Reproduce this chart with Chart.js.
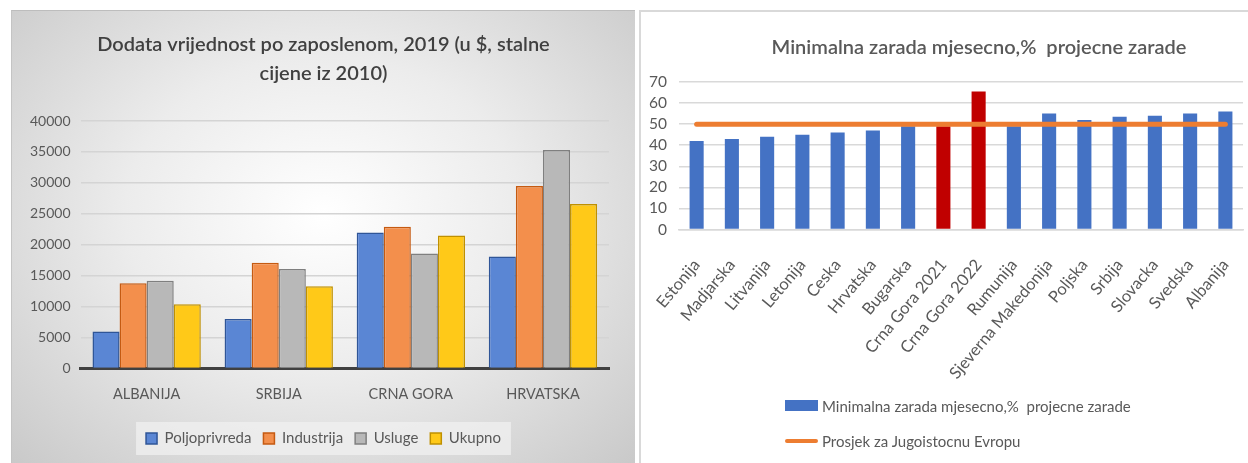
<!DOCTYPE html>
<html>
<head>
<meta charset="utf-8">
<title>Dodata vrijednost i minimalna zarada</title>
<script src="https://cdn.jsdelivr.net/npm/chart.js@4"></script>
<style>
  html, body { margin: 0; padding: 0; background: #fff; }
  body { width: 1248px; height: 463px; position: relative; overflow: hidden; font-family: Lato, sans-serif; }
  #left-panel {
    position: absolute; left: 11px; top: 10px; width: 623px; height: 453px;
    background: radial-gradient(ellipse at 50% 45%, #ffffff 0%, #ececec 45%, #c9c9c9 100%);
    border-top: 1px solid #bdbdbd; border-left: 1px solid #c4c4c4;
  }
  #right-panel {
    position: absolute; left: 639px; top: 10px; width: 609px; height: 453px;
    background: #fff; overflow: hidden;
    border-top: 2px solid #d9d9d9; border-left: 2px solid #d9d9d9;
  }
  #right-legend { position: absolute; left: 144px; top: 376px; color: #595959; font-size: 15px; }
  #right-legend div { height: 35px; display: flex; align-items: center; }
  .swatch-bar { display: inline-block; width: 33px; height: 11px; background: #4472C4; margin-right: 4px; }
  .swatch-line { display: inline-block; width: 33px; height: 4px; border-radius: 2px; background: #ED7D31; margin-right: 4px; }
</style>
</head>
<body>
<div id="left-panel"><canvas id="dodataChart" width="623" height="453"></canvas></div>
<div id="right-panel">
  <canvas id="zaradaChart" width="668" height="453"></canvas>
  <div id="right-legend">
    <div><span class="swatch-bar"></span>Minimalna zarada mjesecno,%&nbsp; projecne zarade</div>
    <div><span class="swatch-line"></span>Prosjek za Jugoistocnu Evropu</div>
  </div>
</div>
<script>
// Lijevi grafikon: dodata vrijednost po zaposlenom
const countries = ['ALBANIJA', 'SRBIJA', 'CRNA GORA', 'HRVATSKA'];
const poljoprivreda = [6000, 8000, 22000, 18100];
const industrija = [13800, 17100, 22900, 29500];
const usluge = [14200, 16100, 18600, 35300];
const ukupno = [10400, 13300, 21500, 26600];

// Desni grafikon: minimalna zarada, % prosjecne zarade
const zemlje = ['Estonija', 'Madjarska', 'Litvanija', 'Letonija', 'Ceska', 'Hrvatska', 'Bugarska',
  'Crna Gora 2021', 'Crna Gora 2022', 'Rumunija', 'Sjeverna Makedonija', 'Poljska', 'Srbija',
  'Slovacka', 'Svedska', 'Albanija'];
const minZarada = [42, 43, 44, 45, 46, 47, 49, 49, 65.5, 49, 55, 52, 53.5, 54, 55, 56];
const prosjekSEE = [50, 50, 50, 50, 50, 50, 50, 50, 50, 50, 50, 50, 50, 50, 50, 50];

Chart.defaults.font.family = 'Lato, "Liberation Sans", sans-serif';
Chart.defaults.color = '#595959';
Chart.defaults.animation = false;

// light box behind the legend of the left chart
const legendBg = {
  id: 'legendBg',
  beforeDraw(chart, args, opts) {
    const boxes = chart.legend && chart.legend.legendHitBoxes;
    if (!boxes || !boxes.length) return;
    const ctx = chart.ctx;
    const left = Math.min(...boxes.map(b => b.left)) - 10;
    const right = Math.max(...boxes.map(b => b.left + b.width)) + 10;
    const top = boxes[0].top - 9;
    const bottom = boxes[0].top + boxes[0].height + 9;
    ctx.save();
    ctx.fillStyle = opts.color || 'rgba(255,255,255,0.35)';
    ctx.fillRect(left, top, right - left, bottom - top);
    ctx.restore();
  }
};

function barSet(label, data, fill, border) {
  return { label: label, data: data, backgroundColor: fill, borderColor: border, borderWidth: 1.5 };
}

// empty axis on the right, used to push the plot in without moving title/legend
function spacer(width) {
  return {
    position: 'right',
    grid: { display: false },
    border: { display: false },
    ticks: { display: false },
    afterFit(scale) { scale.width = width; }
  };
}

new Chart(document.getElementById('dodataChart'), {
  type: 'bar',
  data: {
    labels: countries,
    datasets: [
      barSet('Poljoprivreda', poljoprivreda, '#5a86d4', '#2f5597'),
      barSet('Industrija', industrija, '#f38f4c', '#c55a11'),
      barSet('Usluge', usluge, '#b8b8b8', '#7f7f7f'),
      barSet('Ukupno', ukupno, '#ffc918', '#bf9000')
    ]
  },
  options: {
    responsive: false,
    layout: { padding: { left: 8, right: 8, bottom: 8 } },
    datasets: { bar: { categoryPercentage: 0.82, barPercentage: 1.0 } },
    plugins: {
      title: {
        display: true,
        text: ['Dodata vrijednost po zaposlenom, 2019 (u $, stalne', 'cijene iz 2010)'],
        color: '#404040',
        font: { size: 20, weight: '600', lineHeight: 1.45 },
        padding: { top: 19, bottom: 33 }
      },
      legend: {
        position: 'bottom',
        labels: { boxWidth: 11, boxHeight: 11, padding: 12, font: { size: 15 }, color: '#595959' }
      },
      legendBg: { color: 'rgba(240,240,240,0.75)' },
      tooltip: { enabled: false }
    },
    scales: {
      x: {
        grid: { display: false },
        border: { display: true, color: '#404040', width: 3 },
        ticks: { font: { size: 14.5 }, padding: 9, color: '#595959' },
        afterFit(scale) { scale.height += 7; }
      },
      y: {
        min: 0,
        max: 40000,
        grid: { color: '#d4d4d4', lineWidth: 1.5, drawTicks: false },
        border: { display: false },
        ticks: { stepSize: 5000, font: { size: 14 }, padding: 10, color: '#595959', format: { useGrouping: false } }
      },
      spacer: spacer(18)
    }
  },
  plugins: [legendBg]
});

new Chart(document.getElementById('zaradaChart'), {
  type: 'bar',
  data: {
    labels: zemlje,
    datasets: [
      {
        type: 'line',
        label: 'Prosjek za Jugoistocnu Evropu',
        data: prosjekSEE,
        borderColor: '#ED7D31',
        borderWidth: 5,
        borderCapStyle: 'round',
        pointRadius: 0,
        order: 0
      },
      {
        label: 'Minimalna zarada mjesecno,%  projecne zarade',
        data: minZarada,
        backgroundColor: zemlje.map(z => z.startsWith('Crna Gora') ? '#C00000' : '#4472C4'),
        barPercentage: 0.4,
        categoryPercentage: 1.0,
        order: 1
      }
    ]
  },
  options: {
    responsive: false,
    layout: { padding: { left: 8, right: 0, bottom: 64 } },
    plugins: {
      title: {
        display: true,
        text: 'Minimalna zarada mjesecno,%  projecne zarade',
        color: '#595959',
        font: { size: 20, weight: '600' },
        padding: { top: 24, bottom: 22 }
      },
      legend: { display: false },
      tooltip: { enabled: false }
    },
    scales: {
      x: {
        grid: { display: false },
        border: { color: '#d9d9d9', width: 1.5 },
        ticks: { font: { size: 16.5 }, minRotation: 50, maxRotation: 50, padding: 18, color: '#595959' },
        // the first rotated label has room on the left; don't let it push the plot in
        afterFit(scale) { scale.paddingLeft = 0; }
      },
      y: {
        min: 0,
        max: 70,
        grid: { color: '#d9d9d9', lineWidth: 1.5, drawTicks: false },
        border: { display: false },
        ticks: { stepSize: 10, autoSkip: false, font: { size: 15.5 }, padding: 12, color: '#595959' },
        afterFit(scale) { scale.width = 30; }
      },
      // the original chart is cropped on the right, so the title sits right of the panel centre
      spacer: spacer(66)
    }
  }
});
</script>
</body>
</html>
